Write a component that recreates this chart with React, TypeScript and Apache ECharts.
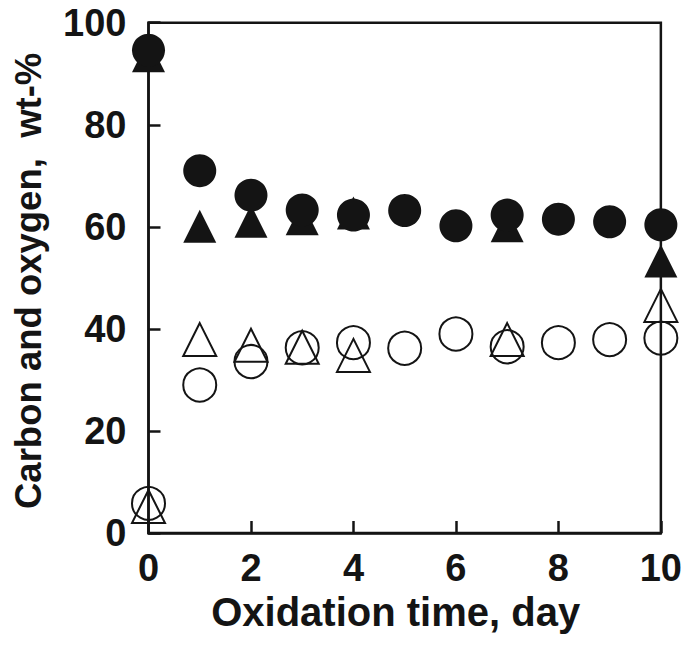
import React, { useEffect, useRef } from "react";
import * as echarts from "echarts";

const days = [0, 1, 2, 3, 4, 5, 6, 7, 8, 9, 10];
const triangleDays = [0, 1, 2, 3, 4, 7, 10];
const filledCircle = [94.6, 71.0, 66.2, 63.3, 62.3, 63.2, 60.2, 62.3, 61.5, 61.0, 60.4];
const filledTriangle = [93.5, 60.1, 61.1, 61.6, 62.7, 60.2, 53.3];
const openCircle = [5.8, 29.0, 33.6, 36.3, 37.3, 36.2, 39.0, 36.5, 37.3, 37.9, 38.2];
const openTriangle = [5.2, 37.9, 36.8, 36.4, 34.8, 37.9, 44.6];

const xTitle = "Oxidation time, day";
const yTitle = "Carbon and oxygen,  wt-%";

const INK = "#141414";
const FONT = '"Liberation Sans", Arial, Helvetica, sans-serif';

function pairs(xs: number[], ys: number[]) {
  return xs.map((x, i) => [x, ys[i]]);
}

export default function App() {
  const ref = useRef<HTMLDivElement>(null);
  useEffect(() => {
    if (!ref.current) return;
    const chart = echarts.init(ref.current, undefined, { renderer: "svg" });
    const filled = { color: INK, opacity: 1 };
    const open = { color: "rgba(0,0,0,0)", borderColor: INK, borderWidth: 2, opacity: 1 };
    chart.setOption({
      animation: false,
      backgroundColor: "#ffffff",
      grid: {
        left: 148.5,
        right: 23.5,
        top: 22.7,
        bottom: 129,
        show: true,
        borderColor: INK,
        borderWidth: 2.5,
        backgroundColor: "transparent",
      },
      xAxis: {
        type: "value",
        min: 0,
        max: 10,
        interval: 2,
        name: xTitle,
        nameLocation: "middle",
        nameGap: 59,
        nameTextStyle: {
          fontFamily: FONT,
          fontWeight: "bold",
          fontSize: 40,
          color: INK,
          padding: [0, 18, 0, 0],
        },
        axisLine: { show: true, lineStyle: { color: INK, width: 2.5 } },
        axisTick: { show: true, inside: true, length: 12, lineStyle: { color: INK, width: 2.5 } },
        axisLabel: { margin: 16, fontFamily: FONT, fontWeight: "bold", fontSize: 38, color: INK },
        splitLine: { show: false },
      },
      yAxis: {
        type: "value",
        min: 0,
        max: 100,
        interval: 20,
        name: yTitle,
        nameLocation: "middle",
        nameGap: 102,
        nameTextStyle: {
          fontFamily: FONT,
          fontWeight: "bold",
          fontSize: 36.5,
          color: INK,
          padding: [0, 6, 0, 0],
        },
        axisLine: { show: true, lineStyle: { color: INK, width: 2.5 } },
        axisTick: { show: true, inside: true, length: 12, lineStyle: { color: INK, width: 2.5 } },
        axisLabel: { margin: 22, fontFamily: FONT, fontWeight: "bold", fontSize: 38, color: INK },
        splitLine: { show: false },
      },
      series: [
        {
          type: "scatter",
          clip: false,
          symbol: "triangle",
          symbolSize: 33,
          itemStyle: filled,
          data: pairs(triangleDays, filledTriangle),
        },
        {
          type: "scatter",
          clip: false,
          symbol: "circle",
          symbolSize: 33,
          itemStyle: filled,
          data: pairs(days, filledCircle),
        },
        {
          type: "scatter",
          clip: false,
          symbol: "circle",
          symbolSize: 33,
          itemStyle: open,
          data: pairs(days, openCircle),
        },
        {
          type: "scatter",
          clip: false,
          symbol: "triangle",
          symbolSize: 33,
          itemStyle: open,
          data: pairs(triangleDays, openTriangle),
        },
      ],
    });
    return () => chart.dispose();
  }, []);
  return (
    <div
      ref={ref}
      style={{ position: "absolute", left: 0, top: 0, width: 685, height: 662, background: "#fff" }}
    />
  );
}
